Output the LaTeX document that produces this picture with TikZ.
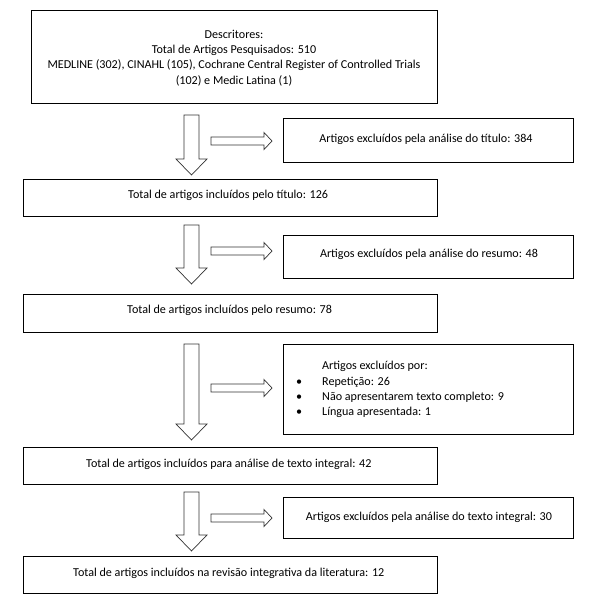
\documentclass[tikz,border=0pt]{standalone}
\usepackage{fontspec}
\setmainfont{Carlito}
\tikzset{
  box/.style={draw, line width=0.8pt, anchor=north west, inner sep=0pt},
  txt/.style={inner sep=0pt, text=black, font=\fontsize{12.1}{15.3}\selectfont},
  blockline/.style={draw=black!80, line width=0.7pt, fill=white},
  pics/downblock/.style={code={
    \draw[blockline] (-7.5,0) -- (-7.5,#1) -- (-15.5,#1) -- (0,#1+16)
      -- (15.5,#1) -- (7.5,#1) -- (7.5,0) -- cycle;}},
  pics/rightblock/.style={code={
    \draw[blockline] (0,-4) -- (#1,-4) -- (#1,-8.5) -- (#1+8,0)
      -- (#1,8.5) -- (#1,4) -- (0,4) -- cycle;}}
}
\begin{document}
\begin{tikzpicture}[x=1pt, y=-1pt]
  \useasboundingbox (0,0) rectangle (592,602);

  % included articles, left column
  \node[box, minimum width=406pt, minimum height=93pt] (desc) at (31,10) {};
  \node[txt, align=center] (tdesc) at (234,58) {Descritores:\\
    Total de Artigos Pesquisados: 510\\
    MEDLINE (302), CINAHL (105), Cochrane Central Register of Controlled Trials\\
    (102) e Medic Latina (1)};
  \node[box, minimum width=414pt, minimum height=37pt] (tit) at (23,179) {};
  \node[txt, anchor=west] (ttit) at (128,195) {Total de artigos incluídos pelo título: 126};
  \node[box, minimum width=414pt, minimum height=38pt] (res) at (23,294) {};
  \node[txt, anchor=west] (tres) at (127,310) {Total de artigos incluídos pelo resumo: 78};
  \node[box, minimum width=414pt, minimum height=37pt] (int) at (23,447) {};
  \node[txt, anchor=west] (tint) at (86,464) {Total de artigos incluídos para análise de texto integral: 42};
  \node[box, minimum width=414pt, minimum height=37pt] (rev) at (23,556) {};
  \node[txt, anchor=west] (trev) at (73,573) {Total de artigos incluídos na revisão integrativa da literatura: 12};

  % excluded articles, right column
  \node[box, minimum width=290pt, minimum height=44pt] (ex1) at (283,118) {};
  \node[txt] (tex1) at (426,139) {Artigos excluídos pela análise do título: 384};
  \node[box, minimum width=290pt, minimum height=43pt] (ex2) at (283,235) {};
  \node[txt] (tex2) at (429,254) {Artigos excluídos pela análise do resumo: 48};
  \node[box, minimum width=290pt, minimum height=90pt] (ex3) at (283,344) {};
  \node[txt, align=left, anchor=west] (tex3) at (296,389.5)
    {\hspace*{26pt}Artigos excluídos por:\\
     \makebox[26pt][l]{\textbullet}Repetição: 26\\
     \makebox[26pt][l]{\textbullet}Não apresentarem texto completo: 9\\
     \makebox[26pt][l]{\textbullet}Língua apresentada: 1};
  \node[box, minimum width=290pt, minimum height=41pt] (ex4) at (283,497) {};
  \node[txt] (tex4) at (429,517) {Artigos excluídos pela análise do texto integral: 30};

  % block arrows
  \pic at (191.5,115) {downblock=44};
  \pic at (191.5,225) {downblock=43};
  \pic at (191.5,344) {downblock=80};
  \pic at (191.5,492) {downblock=43};
  \pic at (211,141) {rightblock=53};
  \pic at (211,251) {rightblock=53};
  \pic at (211,388) {rightblock=53};
  \pic at (211,518) {rightblock=53};
\end{tikzpicture}
\end{document}
